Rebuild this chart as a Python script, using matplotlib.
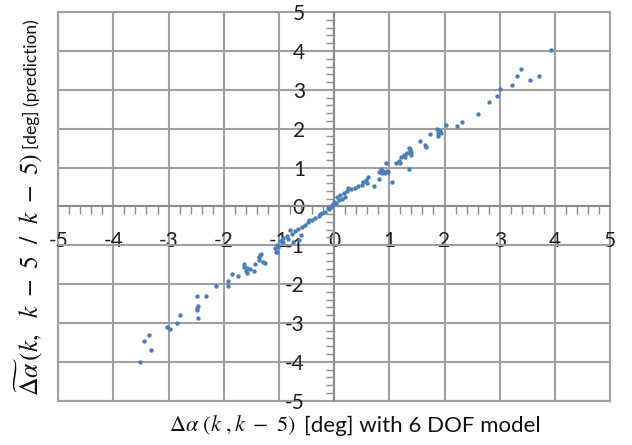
import numpy as np
import matplotlib
matplotlib.use("Agg")
import matplotlib.pyplot as plt
from matplotlib.ticker import MultipleLocator

# values
x_model = [3.93, 3.39, 3.32, 3.54, 3.71, 3.22, 3.00, 2.95, 2.80,
           2.60, 2.32, 2.22, 2.03, 1.86, 1.91, 1.88, 1.93, 1.88, 1.73,
           1.56, 1.65, 1.66, 1.38, 1.39, 1.36, 1.38, 1.32, 1.39, 1.26,
           1.21, 1.29, 1.17, 1.12, 1.20, 1.36, 0.94, 0.85, 0.82, 0.89,
           0.95, 0.86, 0.92, 0.98, 1.05, 0.82, 0.73, 0.62, 0.58, 0.53,
           0.59, 0.50, 0.44, 0.38, 0.30, 0.26, 0.23, 0.17, 0.11, 0.05,
           0.08, 0.00, -0.04, 0.04, -0.10, -0.16, -0.22, -0.28, -0.34,
           -0.40, -0.47, -0.53, -0.59, -0.65, -0.71, -0.80, -0.77, -0.86,
           -0.92, -0.98, -1.04, -1.07, -1.04, -1.01, -0.93, -0.83, -0.74,
           -0.63, -0.60, -1.05, -1.35, -1.33, -1.37, -1.26, -1.43, -1.63,
           -1.57, -1.59, -1.53, -1.46, -1.57, -1.64, -1.85, -1.74, -1.93,
           -1.93, -2.14, -2.49, -2.32, -2.48, -2.49, -2.46, -2.47, -2.79,
           -2.84, -3.03, -2.98, -3.36, -3.44, -3.32, -3.51, -1.28, -1.37,
           0.14, 0.20, -0.06, -0.12, -0.25, -0.45]
y_pred = [4.03, 3.54, 3.36, 3.25, 3.36, 3.12, 3.01, 2.83, 2.70,
          2.39, 2.17, 2.06, 2.10, 1.98, 1.95, 1.88, 1.90, 1.81, 1.86,
          1.68, 1.58, 1.52, 1.49, 1.41, 1.50, 1.41, 1.37, 1.33, 1.33,
          1.26, 1.28, 1.18, 1.13, 1.13, 0.96, 1.11, 0.96, 0.89, 0.92,
          0.92, 0.85, 0.85, 0.88, 0.63, 0.70, 0.53, 0.75, 0.68, 0.64,
          0.59, 0.55, 0.53, 0.48, 0.44, 0.47, 0.40, 0.35, 0.29, 0.23,
          0.16, 0.12, 0.04, 0.08, -0.08, -0.14, -0.18, -0.25, -0.31,
          -0.35, -0.41, -0.48, -0.52, -0.59, -0.63, -0.61, -0.71, -0.76,
          -0.82, -0.88, -0.99, -1.08, -1.17, -1.04, -0.91, -0.85, -0.91,
          -0.87, -0.74, -1.17, -1.25, -1.23, -1.31, -1.45, -1.48, -1.48,
          -1.59, -1.66, -1.62, -1.66, -1.72, -1.55, -1.75, -1.79, -1.91,
          -2.05, -2.05, -2.32, -2.32, -2.61, -2.67, -2.56, -2.88, -2.80,
          -3.00, -3.10, -3.16, -3.31, -3.46, -3.70, -4.01, -1.42, -1.38,
          0.20, 0.25, -0.02, -0.04, -0.20, -0.34]

ticks = [-5, -4, -3, -2, -1, 0, 1, 2, 3, 4, 5]
tick_labels = ["-5", "-4", "-3", "-2", "-1", "0", "1", "2", "3", "4", "5"]

plt.rcParams['mathtext.fontset'] = 'stix'

fig = plt.figure(figsize=(6.32, 4.45), dpi=100)
ax = fig.add_axes([0.092, 0.0998, 0.8734, 0.8728])

grid_col = '#a0a0a0'
ax_col = '#8c8c8c'

ax.scatter(x_model, y_pred, s=10, color='#4a7ebb', linewidths=0, zorder=3)

ax.set_xlim(-5, 5)
ax.set_ylim(-5, 5)
ax.grid(True, which='major', color=grid_col, linewidth=1.5)
ax.set_axisbelow(True)

# outer frame
for v in (-5, 5):
    ax.axvline(v, color=grid_col, linewidth=1.5, clip_on=False, zorder=0)
    ax.axhline(v, color=grid_col, linewidth=1.5, clip_on=False, zorder=0)

# axes crossing at zero
for s in ['top', 'right']:
    ax.spines[s].set_visible(False)
for s in ['left', 'bottom']:
    ax.spines[s].set_position('zero')
    ax.spines[s].set_color(ax_col)
    ax.spines[s].set_linewidth(1.5)

ax.set_xticks(ticks, tick_labels)
ax.set_yticks(ticks, tick_labels)
ax.xaxis.set_minor_locator(MultipleLocator(0.2))
ax.yaxis.set_minor_locator(MultipleLocator(0.2))
ax.tick_params(which='minor', direction='out', length=6, width=1, color=ax_col)
ax.tick_params(axis='x', which='major', direction='out', length=0, pad=18,
               labelsize=15, labelfontfamily='Lato', labelcolor='#202020')
ax.tick_params(axis='y', which='major', direction='out', length=0, pad=21,
               labelsize=15, labelfontfamily='Lato', labelcolor='#202020')

# axis titles: math part in a serif italic, the rest in a sans font
fig.canvas.draw()
r = fig.canvas.get_renderer()
W, H = fig.bbox.width, fig.bbox.height

xm = fig.text(0, 0, r'$\mathit{\Delta\alpha}\ (k\ ,k\ -\ 5)$', fontsize=16,
              va='baseline', ha='left', color='#111111')
xt = fig.text(0, 0, '[deg] with 6 DOF model', family='Lato', fontsize=16,
              va='baseline', ha='left', color='#111111')
w1 = xm.get_window_extent(r).width
w2 = xt.get_window_extent(r).width
gap = 8
x0 = 355 - (w1 + gap + w2) / 2
xm.set_position((x0 / W, 0.03))
xt.set_position(((x0 + w1 + gap) / W, 0.03))

ym = fig.text(0, 0,
              r'$\widetilde{\Delta\alpha}\,(k,\ \ k\ -\ 5\ \ /\ \ k\ -\ 5)$',
              fontsize=18.5, rotation=90, va='bottom', ha='center', color='#111111')
yt = fig.text(0, 0, '[deg] (prediction)', family='Lato', fontsize=12.5,
              rotation=90, va='bottom', ha='center', color='#111111')
h1 = ym.get_window_extent(r).height
y0 = 445 - 396
ym.set_position((29 / W, y0 / H))
yt.set_position((31 / W, (y0 + h1 + 4) / H))

fig.savefig('out.png', dpi=100)
